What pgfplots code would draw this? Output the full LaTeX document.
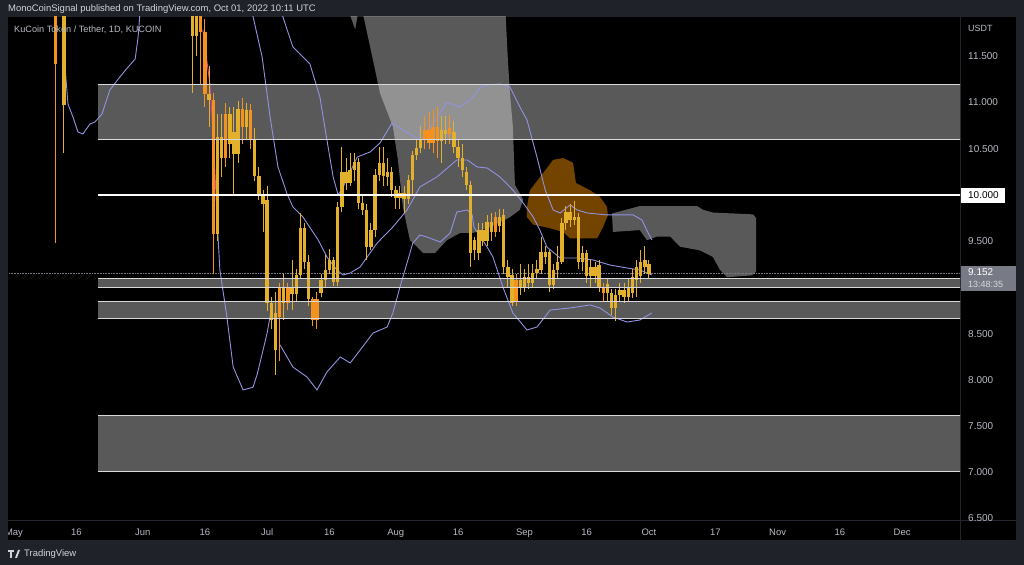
\documentclass[border=0pt]{standalone}
\usepackage{fontspec}
\setmainfont{Liberation Sans}
\usepackage{pgfplots}
\usepackage{pgfplotstable}
\pgfplotsset{compat=1.18}

\definecolor{frame}{HTML}{1F2229}
\definecolor{lbl}{HTML}{B7BAC3}
\definecolor{hdr}{HTML}{D1D4DC}
\definecolor{sep}{HTML}{22252D}
\definecolor{band}{HTML}{9192E2}
\definecolor{candY}{HTML}{E2B02A}
\definecolor{candO}{HTML}{F5921E}
\definecolor{kumo}{HTML}{FF9800}
\definecolor{pricetag}{HTML}{787B86}
\definecolor{maline}{HTML}{E0409A}

% daily candles, d = days since May 1 2022
\pgfplotstableread{
d o h l c
12 12.80 13.50 10.45 10.97
43 12.05 12.30 11.10 11.72
44 11.72 12.10 11.50 12.00
47 11.09 11.40 10.74 11.03
49 9.58 10.88 9.50 10.63
50 10.63 10.88 10.20 10.40
52 10.88 10.95 10.40 10.55
53 10.68 10.95 10.01 10.44
54 10.44 11.02 10.35 10.93
56 10.74 11.00 10.60 10.92
58 10.60 10.72 10.15 10.20
59 10.20 10.30 9.95 10.01
60 10.01 10.05 9.60 9.90
61 9.95 10.10 8.75 8.83
62 8.83 8.90 8.55 8.65
63 8.72 8.95 8.05 8.32
65 9.00 9.15 8.65 8.83
67 8.99 9.30 8.76 8.93
68 8.93 9.20 8.85 9.13
69 9.13 9.80 9.10 9.64
70 9.64 9.70 9.20 9.28
71 9.28 9.35 8.80 8.87
74 8.94 9.15 8.90 9.08
75 9.08 9.35 9.00 9.19
76 9.19 9.42 9.15 9.30
77 9.30 9.33 9.02 9.06
78 9.06 9.92 9.02 9.87
79 9.87 10.52 9.82 10.25
80 10.25 10.40 10.05 10.13
81 10.13 10.45 10.10 10.27
82 10.27 10.45 10.15 10.36
83 10.36 10.40 9.85 9.91
84 9.91 10.00 9.78 9.84
85 9.84 9.90 9.30 9.44
86 9.44 9.70 9.40 9.62
87 9.62 10.28 9.55 10.22
88 10.22 10.52 10.15 10.35
89 10.35 10.52 10.10 10.20
90 10.20 10.40 10.10 10.25
91 10.25 10.30 9.98 10.05
92 10.05 10.10 9.85 9.97
93 9.97 10.10 9.85 10.02
94 10.02 10.10 9.80 9.96
95 9.96 10.22 9.90 10.16
96 10.16 10.48 10.00 10.43
97 10.43 10.60 10.38 10.51
98 10.51 10.75 10.45 10.60
103 10.58 10.85 10.35 10.70
104 10.70 10.85 10.55 10.66
106 10.68 10.80 10.45 10.52
107 10.52 10.60 10.30 10.40
108 10.40 10.55 10.20 10.27
109 10.25 10.30 10.05 10.11
110 10.11 10.15 9.22 9.37
111 9.40 9.55 9.30 9.51
112 9.37 9.70 9.30 9.62
113 9.62 9.70 9.45 9.50
114 9.50 9.78 9.45 9.71
115 9.71 9.80 9.50 9.60
117 9.76 9.85 9.60 9.66
118 9.78 9.85 9.15 9.22
119 9.22 9.30 9.00 9.11
120 9.13 9.20 8.80 8.83
122 9.08 9.25 8.92 9.00
123 9.00 9.20 8.95 9.11
124 9.11 9.25 8.98 9.05
125 9.05 9.25 9.00 9.16
126 9.16 9.30 9.10 9.20
127 9.19 9.55 9.15 9.38
128 9.38 9.45 9.25 9.33
129 9.38 9.40 8.95 9.03
130 9.03 9.25 8.98 9.19
131 9.19 9.45 9.10 9.28
132 9.28 9.75 9.25 9.70
133 9.70 9.88 9.62 9.82
134 9.82 9.90 9.65 9.73
135 9.73 9.93 9.68 9.76
136 9.76 9.80 9.20 9.27
137 9.27 9.45 9.18 9.37
138 9.37 9.40 9.05 9.12
139 9.12 9.30 9.00 9.22
140 9.22 9.28 9.05 9.12
141 9.24 9.30 8.95 9.00
143 8.94 9.10 8.85 9.04
144 8.94 8.98 8.70 8.78
145 8.78 8.98 8.64 8.92
146 8.92 9.05 8.85 8.97
147 8.97 9.05 8.83 8.90
148 8.90 9.10 8.85 8.99
149 8.94 9.20 8.88 9.11
150 9.08 9.30 8.90 9.22
151 9.12 9.40 9.05 9.27
152 9.22 9.45 9.15 9.30
153 9.25 9.30 9.10 9.15
}\candY

\pgfplotstableread{
d o h l c
10 13.00 14.00 9.48 11.42
45 12.00 12.10 11.20 11.76
46 11.76 11.90 10.95 11.09
48 11.03 11.10 9.15 9.58
51 10.40 11.00 10.30 10.88
55 10.93 11.05 10.55 10.74
57 10.92 10.98 10.50 10.60
64 8.68 9.05 8.20 9.00
66 8.83 9.05 8.75 8.99
72 8.87 8.90 8.58 8.65
73 8.65 8.95 8.55 8.87
99 10.60 10.85 10.50 10.70
100 10.70 10.90 10.50 10.56
101 10.56 10.92 10.45 10.74
102 10.74 10.95 10.40 10.58
105 10.66 10.87 10.55 10.72
116 9.60 9.82 9.55 9.76
121 8.85 9.15 8.80 9.08
142 9.00 9.05 8.85 8.94
}\candO

\pgfplotsset{
  wick/.style={draw=none, mark=none, forget plot,
    error bars/.cd, y dir=both, y explicit, error mark=none,
    error bar style={line width=1bp, draw=#1}},
  body/.style={draw=none, mark=none, forget plot,
    error bars/.cd, y dir=both, y explicit, error mark=none,
    error bar style={line width=3.4bp, draw=#1}},
  zone/.style={draw=none, fill=white, fill opacity=0.35, forget plot},
  zline/.style={draw=white!85!black, line width=1.1bp, forget plot},
}

\begin{document}
\begin{tikzpicture}[x=1bp,y=1bp]
\useasboundingbox (0,0) rectangle (1024,565);
\fill[frame] (0,0) rectangle (1024,565);
\fill[black] (8,25) rectangle (1016,548);
\draw[sep, line width=0.8bp] (960,25) -- (960,548);
\draw[sep, line width=0.8bp] (8,45) -- (1016,45);

\begin{axis}[
    at={(8bp,45bp)}, anchor=south west,
    scale only axis, width=952bp, height=503bp,
    xmin=-1.45, xmax=227.95, ymin=6.483, ymax=11.926,
    axis line style={draw=none},
    major tick length=0pt,
    xtick={0,15,31,46,61,76,92,107,123,138,153,169,184,199,214},
    xticklabels={May,16,Jun,16,Jul,16,Aug,16,Sep,16,Oct,17,Nov,16,Dec},
    xticklabel style={font=\fontsize{9.5}{11}\selectfont, text=lbl, anchor=center,
      text height=1.6ex, text depth=0.3ex, yshift=-12bp},
    ytick={6.5,7,7.5,8,8.5,9.5,10.5,11,11.5},
    yticklabels={6.500,7.000,7.500,8.000,8.500,9.500,10.500,11.000,11.500},
    yticklabel pos=right,
    yticklabel style={font=\fontsize{10}{11}\selectfont, text=lbl, anchor=west, inner sep=0pt, xshift=8bp},
]
% horizontal zones
\addplot[zone] coordinates {(20.24,10.60)(240,10.60)(240,11.20)(20.24,11.20)};
\addplot[zone] coordinates {(20.24,9.00)(240,9.00)(240,9.10)(20.24,9.10)};
\addplot[zone] coordinates {(20.24,8.66)(240,8.66)(240,8.85)(20.24,8.85)};
\addplot[zone] coordinates {(20.24,7.01)(240,7.01)(240,7.61)(20.24,7.61)};

% cloud shapes
\addplot[zone] coordinates {(83.4,12.10)(86.5,11.46)(88.2,11.10)(91.3,10.74)(92.5,10.38)(93.7,9.87)(95.4,9.51)(96.6,9.46)(98.6,9.37)(101.4,9.37)(104.3,9.51)(107.5,9.59)(110.6,9.59)(114.7,9.65)(119.5,9.76)(121.9,9.84)(122.7,9.95)(120.7,10.11)(120.2,10.74)(119.5,11.10)(119.0,11.46)(118.3,12.10)};
\addplot[zone] coordinates {(79.8,12.10)(83.4,12.10)(82.2,11.79)};
\addplot[zone] coordinates {(144.1,9.80)(150.8,9.88)(164.6,9.88)(166.0,9.84)(168.4,9.81)(178.1,9.79)(178.8,9.75)(178.8,9.17)(177.8,9.13)(171.8,9.11)(170.1,9.19)(168.4,9.33)(165.3,9.40)(160.5,9.44)(158.1,9.55)(154.9,9.55)(152.5,9.51)(150.8,9.62)(144.3,9.60)};
\addplot[draw=none, fill=kumo, fill opacity=0.45, forget plot] coordinates {(123.6,9.87)(124.3,10.05)(126.7,10.19)(129.9,10.38)(132.3,10.40)(134.7,10.35)(135.4,10.13)(138.8,10.05)(141.2,9.98)(142.9,9.87)(143.1,9.78)(141.9,9.65)(140.5,9.53)(134.0,9.53)(132.3,9.60)(129.2,9.64)(125.1,9.68)(123.6,9.76)};

% current price
\addplot[pricetag, densely dotted, line width=0.6bp, forget plot] coordinates {(-2,9.152)(230,9.152)};

% bands
\addplot[band, line width=0.9bp] coordinates {(11.6,12.06)(11.8,11.93)(12.3,11.385)(13.0,10.985)(14.2,10.844)(15.4,10.682)(16.6,10.660)(18.3,10.768)(19.5,10.790)(21.2,10.877)(23.1,11.136)(25.5,11.277)(27.5,11.385)(29.2,11.472)(29.9,11.710)(30.4,12.0)};
\addplot[band, line width=0.9bp] coordinates {(56.9,12.06)(57.6,11.93)(59.8,11.49)(61.7,10.844)(63.6,10.303)(65.8,10.011)(67.2,9.870)(69.6,9.762)(73.3,9.513)(75.4,9.329)(77.8,9.188)(79.3,9.134)(81.0,9.156)(83.4,9.221)(87.5,9.480)(91.3,9.654)(94.7,9.838)(97.8,10.087)(101.9,10.195)(106.7,10.379)(109.2,10.379)(111.6,10.303)(114.0,10.292)(117.1,10.195)(120.2,10.054)(122.7,9.913)(125.1,9.762)(126.7,9.621)(128.4,9.437)(131.6,9.318)(135.7,9.318)(139.5,9.297)(143.6,9.242)(147.7,9.210)(150.8,9.188)(153.7,9.134)};
\addplot[band, line width=0.9bp] coordinates {(64.1,12.06)(64.8,11.926)(67.2,11.602)(71.3,11.418)(73.7,11.061)(75.4,10.595)(76.9,10.195)(78.1,10.000)(79.3,10.087)(82.7,10.411)(85.8,10.465)(88.2,10.563)(91.1,10.779)(93.7,10.703)(97.1,10.617)(98.6,10.628)(101.0,10.779)(104.3,10.996)(107.5,10.952)(109.9,11.028)(112.3,11.158)(114.0,11.191)(117.1,11.201)(119.5,11.169)(121.9,10.952)(123.6,10.812)(126.0,10.411)(128.0,10.054)(129.9,9.838)(131.6,9.805)(134.0,9.892)(135.7,9.838)(138.1,9.805)(142.9,9.784)(149.2,9.784)(151.3,9.729)(152.8,9.589)(153.7,9.513)};
\addplot[maline, line width=0.9bp] coordinates {(45.5,11.79)(47.2,11.20)(48.0,10.66)(48.9,9.76)};
\addplot[band, line width=0.9bp] coordinates {(48.9,9.76)(49.6,9.19)(51.3,8.68)(52.8,8.14)(55.2,7.89)(57.6,7.92)(58.6,8.06)(60.0,8.32)(61.0,8.51)(62.2,8.81)};
\addplot[band, line width=0.9bp] coordinates {(64.1,8.377)(67.2,8.138)(70.6,8.030)(73.0,7.890)(75.4,8.084)(78.6,8.247)(81.0,8.182)(83.4,8.322)(86.5,8.506)(89.9,8.571)(91.3,8.723)(93.0,9.004)(94.7,9.264)(96.1,9.480)(97.8,9.567)(99.5,9.545)(102.7,9.491)(105.1,9.589)(106.7,9.816)(109.2,9.838)(110.4,9.784)(110.8,9.654)(114.0,9.437)(115.4,9.329)(117.8,9.004)(120.2,8.723)(123.6,8.539)(126.0,8.571)(129.2,8.755)(134.0,8.777)(138.8,8.810)(141.2,8.777)(144.3,8.680)(147.7,8.625)(150.8,8.647)(153.7,8.723)};

% candles
\addplot[wick=candY] table[x=d, y expr={(\thisrow{h}+\thisrow{l})/2}, y error expr={(\thisrow{h}-\thisrow{l})/2}] {\candY};
\addplot[body=candY] table[x=d, y expr={(\thisrow{o}+\thisrow{c})/2}, y error expr={max(abs(\thisrow{c}-\thisrow{o})/2,0.012)}] {\candY};
\addplot[wick=candO] table[x=d, y expr={(\thisrow{h}+\thisrow{l})/2}, y error expr={(\thisrow{h}-\thisrow{l})/2}] {\candO};
\addplot[body=candO] table[x=d, y expr={(\thisrow{o}+\thisrow{c})/2}, y error expr={max(abs(\thisrow{c}-\thisrow{o})/2,0.012)}] {\candO};

% zone borders and level line
\addplot[zline] coordinates {(20.24,10.60)(240,10.60)};
\addplot[zline] coordinates {(20.24,11.20)(240,11.20)};
\addplot[zline] coordinates {(20.24,9.00)(240,9.00)};
\addplot[zline] coordinates {(20.24,9.10)(240,9.10)};
\addplot[zline] coordinates {(20.24,8.66)(240,8.66)};
\addplot[zline] coordinates {(20.24,8.85)(240,8.85)};
\addplot[zline] coordinates {(20.24,7.01)(240,7.01)};
\addplot[zline] coordinates {(20.24,7.61)(240,7.61)};
\addplot[draw=white, line width=1.5bp, forget plot] coordinates {(20.24,10.00)(240,10.00)};
\end{axis}

% cut the first month label at the panel edge, as in the screenshot
\fill[frame] (0,25) rectangle (8,45);

% header, title, scale labels
\node[anchor=west, text=hdr, font=\fontsize{9.5}{11}\selectfont, inner sep=0pt] at (8,556) {MonoCoinSignal published on TradingView.com, Oct 01, 2022 10:11 UTC};
\node[anchor=west, text=lbl, font=\fontsize{9.2}{11}\selectfont, inner sep=0pt] at (14,535) {KuCoin Token / Tether, 1D, KUCOIN};
\node[anchor=west, text=lbl, font=\fontsize{9}{10}\selectfont, inner sep=0pt] at (968,537) {USDT};

\fill[white] (961,362) rectangle (1005,377);
\node[anchor=west, text=black, font=\fontsize{10}{11}\selectfont, inner sep=0pt] at (968,369.5) {10.000};
\fill[pricetag] (961,274) rectangle (1016,299);
\node[anchor=west, text=white, font=\fontsize{10}{11}\selectfont, inner sep=0pt] at (968,292.5) {9.152};
\node[anchor=west, text=white!85!black, font=\fontsize{9}{10}\selectfont, inner sep=0pt] at (968,281) {13:48:35};

% footer logo
\fill[hdr] (8,13) rectangle (14,15);
\fill[hdr] (10,7) rectangle (12,15);
\fill[hdr] (15,7) -- (18,15) -- (20,15) -- (17,7) -- cycle;
\node[anchor=west, text=hdr, font=\fontsize{9.5}{11}\selectfont, inner sep=0pt] at (24,10.5) {TradingView};
\end{tikzpicture}
\end{document}
